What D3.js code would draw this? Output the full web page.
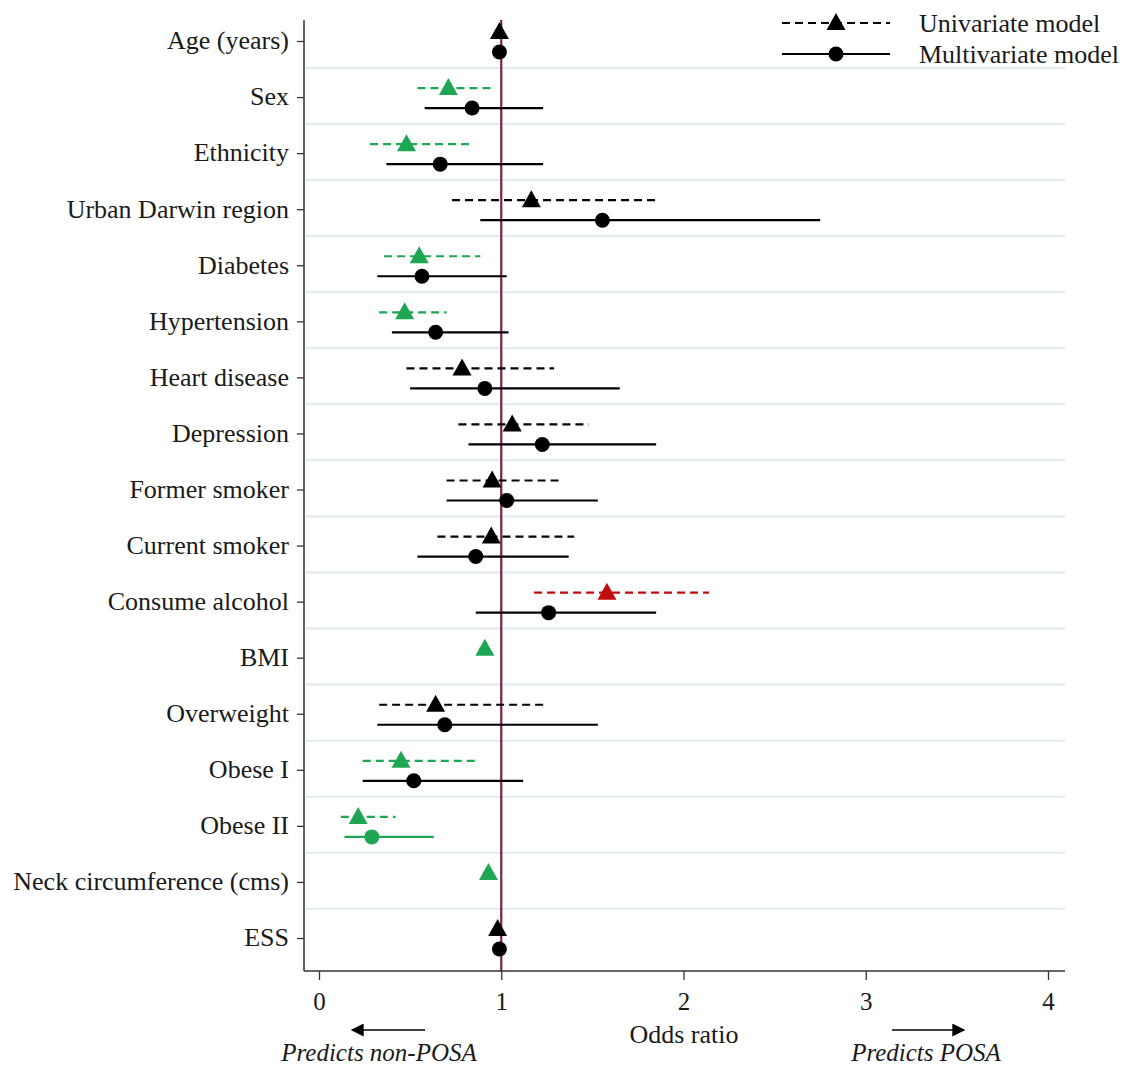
<!DOCTYPE html>
<html><head><meta charset="utf-8">
<script src="https://cdn.jsdelivr.net/npm/d3@7"></script>
<style>body{margin:0;background:#fff}svg{display:block}text{font-family:"Liberation Serif","Times New Roman",serif;fill:#1a1a1a}</style>
</head><body><svg id="c" width="1124" height="1066"></svg>
<script>
const categories = ["Age (years)","Sex","Ethnicity","Urban Darwin region","Diabetes","Hypertension","Heart disease","Depression","Former smoker","Current smoker","Consume alcohol","BMI","Overweight","Obese I","Obese II","Neck circumference (cms)","ESS"];
const uniOR  = [0.99,0.71,0.48,1.165,0.55,0.47,0.785,1.06,0.95,0.945,1.58,0.91,0.64,0.45,0.215,0.93,0.98];
const uniLo  = [0.98,0.54,0.28,0.73,0.357,0.33,0.48,0.765,0.70,0.65,1.18,0.88,0.33,0.24,0.12,0.90,0.96];
const uniHi  = [1.00,0.96,0.835,1.85,0.885,0.70,1.29,1.48,1.32,1.40,2.14,0.94,1.24,0.88,0.42,0.96,1.00];
const uniCol = ["black","green","green","black","green","green","black","black","black","black","red","green","black","green","green","green","black"];
const multiOR  = [0.99,0.84,0.665,1.555,0.565,0.64,0.91,1.225,1.03,0.86,1.26,null,0.69,0.52,0.29,null,0.99];
const multiLo  = [0.98,0.58,0.37,0.885,0.32,0.40,0.50,0.82,0.70,0.54,0.86,null,0.32,0.24,0.14,null,0.97];
const multiHi  = [1.00,1.23,1.23,2.75,1.03,1.04,1.65,1.85,1.53,1.37,1.85,null,1.53,1.12,0.63,null,1.01];
const multiCol = ["black","black","black","black","black","black","black","black","black","black","black",null,"black","black","green",null,"black"];
const xTicks = [0,1,2,3,4];
const legendLabels = ["Univariate model","Multivariate model"];

(function(){
const colorMap = {black:"#000000", green:"#1fa652", red:"#c00d0d"};
const svg = d3.select("#c");
const x = d3.scaleLinear().domain([0,4]).range([319,1048]);
const y = d3.scalePoint().domain(categories).range([41,938]);
const step = y.step();
const L = 304, R = 1065, T = 20, B = 971;

svg.append("g").selectAll("line").data(categories.slice(1)).join("line")
  .attr("x1", L+2).attr("x2", R)
  .attr("y1", d => y(d) - step*0.52).attr("y2", d => y(d) - step*0.52)
  .attr("stroke", "#e1eaf0").attr("stroke-width", 2);

svg.append("line").attr("x1", x(1)).attr("x2", x(1)).attr("y1", T).attr("y2", B)
  .attr("stroke", "#7d2048").attr("stroke-width", 2.2);

const gy = svg.append("g").attr("transform", `translate(${L},0)`)
  .call(d3.axisLeft(y).tickSize(7).tickPadding(8));
gy.select(".domain").attr("d", `M0,${T}V${B}`).attr("stroke", "#333").attr("stroke-width", 1.5);
gy.selectAll(".tick line").attr("stroke", "#333").attr("stroke-width", 1.3);
gy.selectAll(".tick text").attr("font-size", 26).attr("font-family", "Liberation Serif").attr("fill", "#1a1a1a").attr("dy", "0.3em");

const gx = svg.append("g").attr("transform", `translate(0,${B})`)
  .call(d3.axisBottom(x).tickValues(xTicks).tickFormat(d3.format("d")).tickSize(9).tickPadding(12));
gx.select(".domain").attr("d", `M${L},0H${R}`).attr("stroke", "#333").attr("stroke-width", 1.5);
gx.selectAll(".tick line").attr("stroke", "#333").attr("stroke-width", 1.3);
gx.selectAll(".tick text").attr("font-size", 25).attr("font-family", "Liberation Serif").attr("fill", "#1a1a1a");

const uniOff = -9, multiOff = 11;
function triPath(cx, cy){ return `M${cx},${cy-10}L${cx+9.5},${cy+7}L${cx-9.5},${cy+7}Z`; }

const rows = categories.map((c,i) => ({c, i}));
const g = svg.append("g");
g.selectAll("line.uci").data(rows).join("line").attr("class","uci")
  .attr("x1", d => x(uniLo[d.i])).attr("x2", d => x(uniHi[d.i]))
  .attr("y1", d => y(d.c)+uniOff).attr("y2", d => y(d.c)+uniOff)
  .attr("stroke", d => colorMap[uniCol[d.i]]).attr("stroke-width", 2.2).attr("stroke-dasharray", "8,5");
const mrows = rows.filter(d => multiOR[d.i] !== null);
g.selectAll("line.mci").data(mrows).join("line").attr("class","mci")
  .attr("x1", d => x(multiLo[d.i])).attr("x2", d => x(multiHi[d.i]))
  .attr("y1", d => y(d.c)+multiOff).attr("y2", d => y(d.c)+multiOff)
  .attr("stroke", d => colorMap[multiCol[d.i]]).attr("stroke-width", 2.2);
g.selectAll("path.tri").data(rows).join("path").attr("class","tri")
  .attr("d", d => triPath(x(uniOR[d.i]), y(d.c)+uniOff))
  .attr("fill", d => colorMap[uniCol[d.i]]);
g.selectAll("circle.pt").data(mrows).join("circle").attr("class","pt")
  .attr("cx", d => x(multiOR[d.i])).attr("cy", d => y(d.c)+multiOff).attr("r", 7.5)
  .attr("fill", d => colorMap[multiCol[d.i]]);

const lg = svg.append("g");
lg.append("line").attr("x1",782).attr("x2",890).attr("y1",23).attr("y2",23)
  .attr("stroke","#000").attr("stroke-width",2).attr("stroke-dasharray","8,5");
lg.append("path").attr("d", triPath(836, 23)).attr("fill","#000");
lg.append("line").attr("x1",782).attr("x2",890).attr("y1",54).attr("y2",54)
  .attr("stroke","#000").attr("stroke-width",2);
lg.append("circle").attr("cx",836).attr("cy",54).attr("r",7.5).attr("fill","#000");
lg.selectAll("text").data(legendLabels).join("text")
  .attr("x", 919).attr("y", (d,i) => 32 + i*31).attr("font-size", 26).text(d => d);

svg.append("text").attr("x", 684).attr("y", 1043).attr("text-anchor","middle").attr("font-size",26).text("Odds ratio");
svg.append("text").attr("x", 379).attr("y", 1061).attr("text-anchor","middle").attr("font-size",25).attr("font-style","italic").text("Predicts non-POSA");
svg.append("text").attr("x", 926).attr("y", 1061).attr("text-anchor","middle").attr("font-size",25).attr("font-style","italic").text("Predicts POSA");
svg.append("defs").append("marker").attr("id","ah").attr("viewBox","0 0 10 10").attr("refX",9).attr("refY",5)
  .attr("markerWidth",15).attr("markerHeight",13).attr("markerUnits","userSpaceOnUse").attr("orient","auto")
  .append("path").attr("d","M0,0L10,5L0,10Z").attr("fill","#000");
svg.append("line").attr("x1",425).attr("x2",352).attr("y1",1030).attr("y2",1030).attr("stroke","#000").attr("stroke-width",1.6).attr("marker-end","url(#ah)");
svg.append("line").attr("x1",892).attr("x2",964).attr("y1",1030).attr("y2",1030).attr("stroke","#000").attr("stroke-width",1.6).attr("marker-end","url(#ah)");
})();
</script></body></html>
